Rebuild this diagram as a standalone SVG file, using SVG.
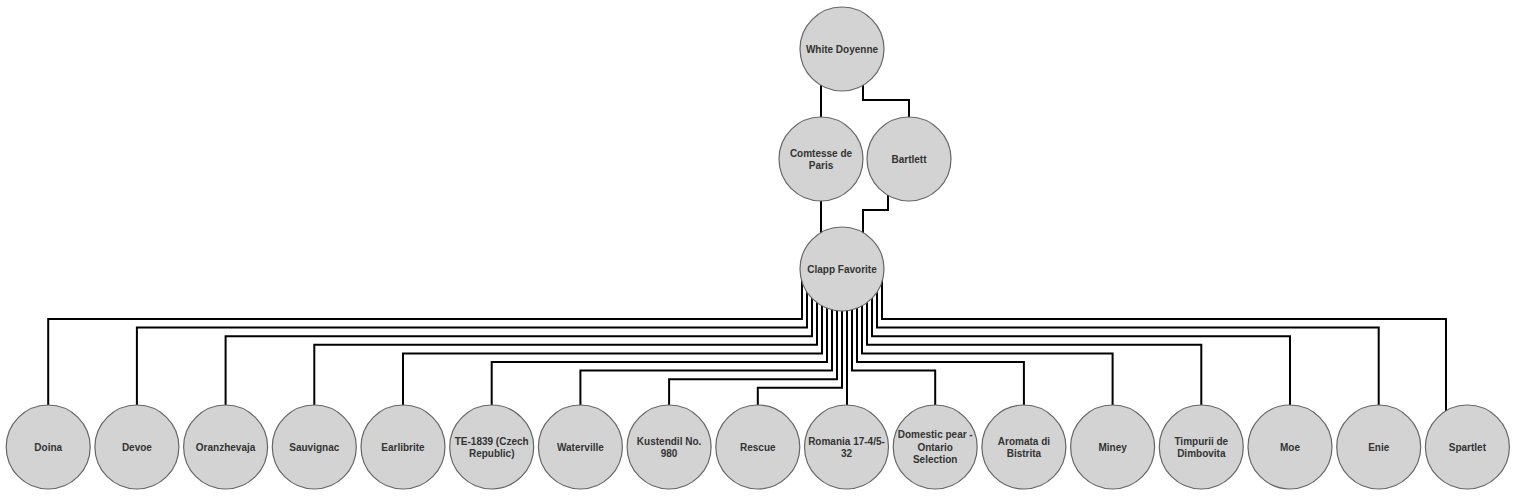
<svg xmlns="http://www.w3.org/2000/svg" width="1516" height="498" viewBox="0 0 1516 498">
<style>
.n circle{fill:#d3d3d3;stroke:#666;stroke-width:1.2}
.n text{font-family:"Liberation Sans",Arial,sans-serif;font-size:10px;font-weight:bold;fill:#333;text-anchor:middle}
#edges path{fill:none;stroke:#000;stroke-width:2}
</style>
<rect width="1516" height="498" fill="#fff"/>
<g id="edges">
<path d="M821 49V159"/>
<path d="M863 49V100H909V159"/>
<path d="M821 159V269"/>
<path d="M888 159V210H863V269"/>
<path d="M802 269V319H48.2V447"/>
<path d="M807 269V327.6H136.9V447"/>
<path d="M812 269V336.2H225.6V447"/>
<path d="M817 269V344.8H314.3V447"/>
<path d="M822 269V353.4H403V447"/>
<path d="M827 269V362H491.7V447"/>
<path d="M832 269V370.6H580.4V447"/>
<path d="M837 269V379.2H669.1V447"/>
<path d="M842 269V387.8H757.8V447"/>
<path d="M847 269V447"/>
<path d="M852 269V370.6H935.2V447"/>
<path d="M857 269V362H1023.9V447"/>
<path d="M862 269V353.4H1112.6V447"/>
<path d="M867 269V344.8H1201.3V447"/>
<path d="M872 269V336.2H1290V447"/>
<path d="M877 269V327.6H1378.7V447"/>
<path d="M882 269V319H1446V447"/>
</g>
<g id="white-doyenne" class="n"><circle cx="842" cy="49" r="42"/><text x="842" y="52.5">White Doyenne</text></g>
<g id="comtesse" class="n"><circle cx="821" cy="159" r="42"/><text x="821" y="156.5">Comtesse de<tspan x="821" dy="12">Paris</tspan></text></g>
<g id="bartlett" class="n"><circle cx="909" cy="159" r="42"/><text x="909" y="162.5">Bartlett</text></g>
<g id="clapp" class="n"><circle cx="842" cy="269" r="42"/><text x="842" y="272.5">Clapp Favorite</text></g>
<g id="doina" class="n"><circle cx="48.2" cy="447" r="42"/><text x="48.2" y="450.5">Doina</text></g>
<g id="devoe" class="n"><circle cx="136.9" cy="447" r="42"/><text x="136.9" y="450.5">Devoe</text></g>
<g id="oranzhevaja" class="n"><circle cx="225.6" cy="447" r="42"/><text x="225.6" y="450.5">Oranzhevaja</text></g>
<g id="sauvignac" class="n"><circle cx="314.3" cy="447" r="42"/><text x="314.3" y="450.5">Sauvignac</text></g>
<g id="earlibrite" class="n"><circle cx="403" cy="447" r="42"/><text x="403" y="450.5">Earlibrite</text></g>
<g id="te-1839" class="n"><circle cx="491.7" cy="447" r="42"/><text x="491.7" y="444.5">TE-1839 (Czech<tspan x="491.7" dy="12">Republic)</tspan></text></g>
<g id="waterville" class="n"><circle cx="580.4" cy="447" r="42"/><text x="580.4" y="450.5">Waterville</text></g>
<g id="kustendil" class="n"><circle cx="669.1" cy="447" r="42"/><text x="669.1" y="444.5">Kustendil No.<tspan x="669.1" dy="12">980</tspan></text></g>
<g id="rescue" class="n"><circle cx="757.8" cy="447" r="42"/><text x="757.8" y="450.5">Rescue</text></g>
<g id="romania" class="n"><circle cx="846.5" cy="447" r="42"/><text x="846.5" y="444.5">Romania 17-4/5-<tspan x="846.5" dy="12">32</tspan></text></g>
<g id="domestic" class="n"><circle cx="935.2" cy="447" r="42"/><text x="935.2" y="438">Domestic pear -<tspan x="935.2" dy="12.5">Ontario</tspan><tspan x="935.2" dy="12.5">Selection</tspan></text></g>
<g id="aromata" class="n"><circle cx="1023.9" cy="447" r="42"/><text x="1023.9" y="444.5">Aromata di<tspan x="1023.9" dy="12">Bistrita</tspan></text></g>
<g id="miney" class="n"><circle cx="1112.6" cy="447" r="42"/><text x="1112.6" y="450.5">Miney</text></g>
<g id="timpurii" class="n"><circle cx="1201.3" cy="447" r="42"/><text x="1201.3" y="444.5">Timpurii de<tspan x="1201.3" dy="12">Dimbovita</tspan></text></g>
<g id="moe" class="n"><circle cx="1290" cy="447" r="42"/><text x="1290" y="450.5">Moe</text></g>
<g id="enie" class="n"><circle cx="1378.7" cy="447" r="42"/><text x="1378.7" y="450.5">Enie</text></g>
<g id="spartlet" class="n"><circle cx="1467.4" cy="447" r="42"/><text x="1467.4" y="450.5">Spartlet</text></g>
</svg>
